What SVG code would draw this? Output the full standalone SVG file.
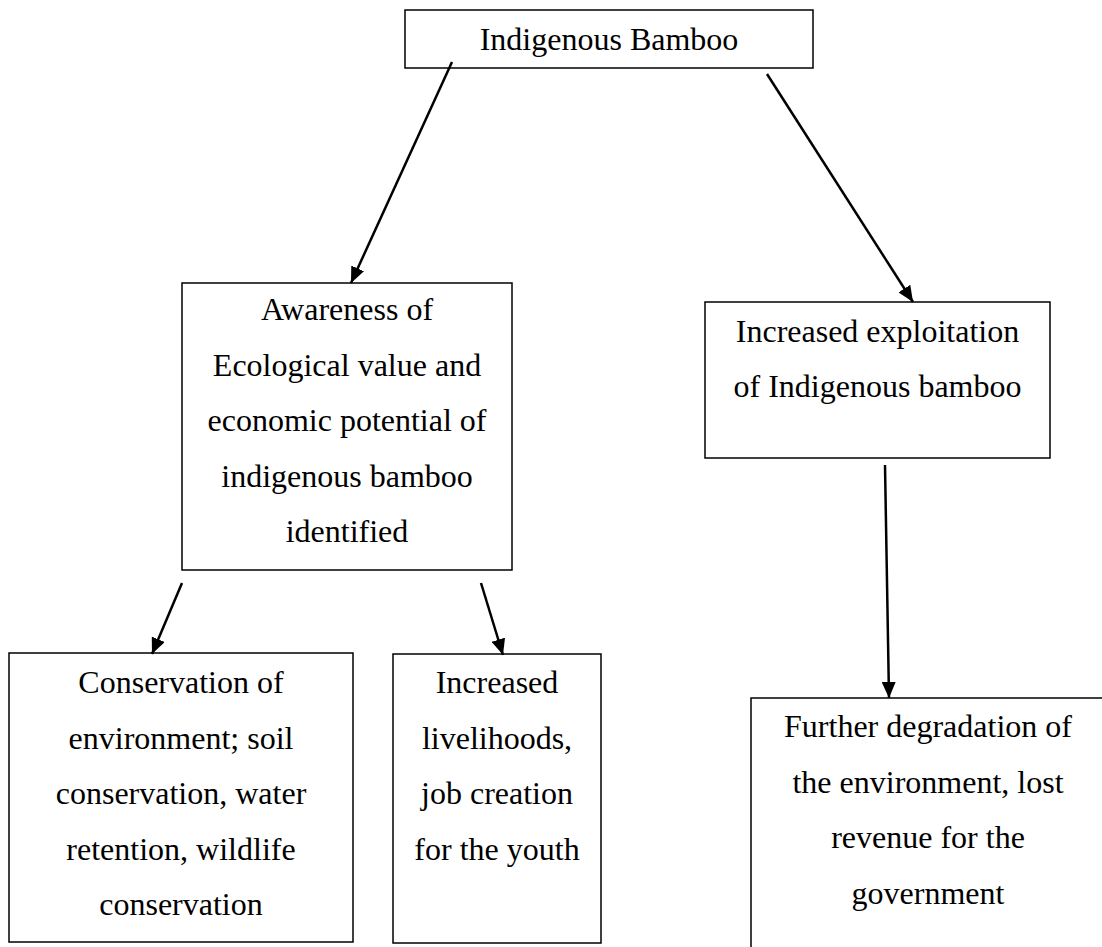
<svg xmlns="http://www.w3.org/2000/svg" width="1102" height="947" viewBox="0 0 1102 947">
<style>
.box{fill:#fff;stroke:#000;stroke-width:1.5}
.t{font-size:32px;fill:#000;text-anchor:middle}
.c{stroke:#000;stroke-width:2.5;fill:none}
</style>
<defs>
<marker id="ah" markerUnits="userSpaceOnUse" markerWidth="16" markerHeight="14" refX="16" refY="7" orient="auto">
<path d="M0,0 L16,7 L0,14 z" fill="#000"/>
</marker>
</defs>
<rect width="1102" height="947" fill="#fff"/>
<g font-family="'Liberation Serif', 'DejaVu Serif', serif">
<g id="n-top">
<rect class="box" x="405" y="10" width="408" height="58"/>
<text class="t" x="609" y="50">Indigenous Bamboo</text>
</g>
<g id="n-awareness">
<rect class="box" x="182" y="283" width="330" height="287"/>
<text class="t" x="347" y="320">Awareness of</text>
<text class="t" x="347" y="375.5">Ecological value and</text>
<text class="t" x="347" y="431">economic potential of</text>
<text class="t" x="347" y="486.5">indigenous bamboo</text>
<text class="t" x="347" y="542">identified</text>
</g>
<g id="n-exploitation">
<rect class="box" x="705" y="302" width="345" height="156"/>
<text class="t" x="877.5" y="342">Increased exploitation</text>
<text class="t" x="877.5" y="397">of Indigenous bamboo</text>
</g>
<g id="n-conservation">
<rect class="box" x="9" y="653" width="344" height="289"/>
<text class="t" x="181" y="693">Conservation of</text>
<text class="t" x="181" y="748.5">environment; soil</text>
<text class="t" x="181" y="804">conservation, water</text>
<text class="t" x="181" y="859.5">retention, wildlife</text>
<text class="t" x="181" y="915">conservation</text>
</g>
<g id="n-livelihoods">
<rect class="box" x="393" y="654" width="208" height="289"/>
<text class="t" x="497" y="693">Increased</text>
<text class="t" x="497" y="748.5">livelihoods,</text>
<text class="t" x="497" y="804">job creation</text>
<text class="t" x="497" y="859.5">for the youth</text>
</g>
<g id="n-degradation">
<rect class="box" x="751" y="698" width="354" height="270"/>
<text class="t" x="928" y="737">Further degradation of</text>
<text class="t" x="928" y="792.5">the environment, lost</text>
<text class="t" x="928" y="848">revenue for the</text>
<text class="t" x="928" y="903.5">government</text>
</g>
</g>
<g id="connectors">
<line class="c" x1="452" y1="62" x2="351" y2="283" marker-end="url(#ah)"/>
<line class="c" x1="767" y1="74" x2="913" y2="302" marker-end="url(#ah)"/>
<line class="c" x1="182" y1="583" x2="152" y2="654" marker-end="url(#ah)"/>
<line class="c" x1="481" y1="583" x2="503" y2="655" marker-end="url(#ah)"/>
<line class="c" x1="885" y1="465" x2="889" y2="698" marker-end="url(#ah)"/>
</g>
</svg>
